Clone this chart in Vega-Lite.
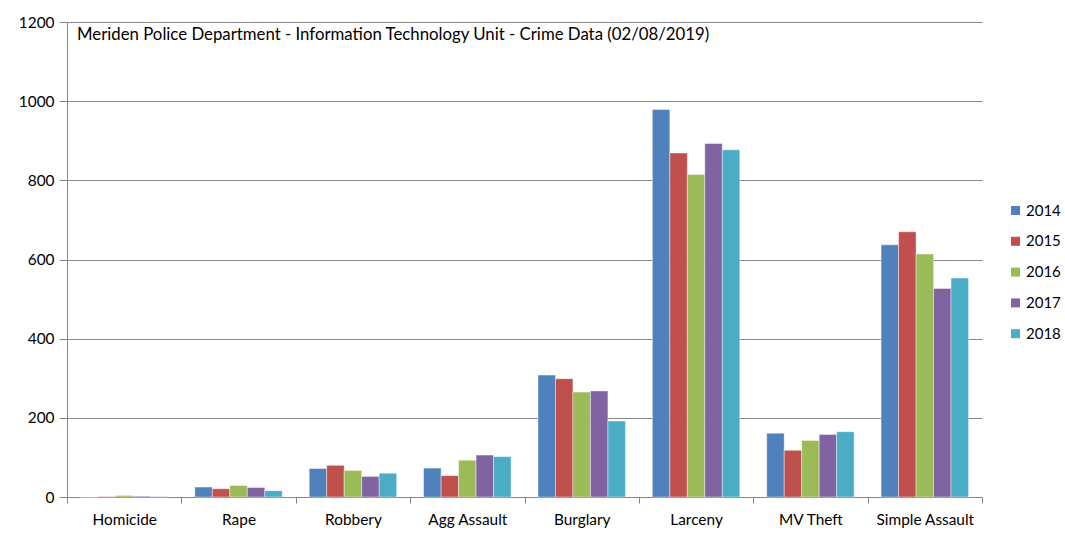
{
  "$schema": "https://vega.github.io/schema/vega-lite/v6.json",
  "width": 915,
  "height": 475,
  "autosize": {"type": "none"},
  "padding": {"left": 67, "top": 22, "right": 83, "bottom": 40},
  "background": "white",
  "config": {
    "font": "Lato",
    "view": {"stroke": null},
    "axis": {"labelFont": "Lato", "labelColor": "#000000", "labelFontSize": 15.4, "domainColor": "#868686", "tickColor": "#868686", "gridColor": "#868686", "titleFontSize": 0}
  },
  "title": {
    "text": "Meriden Police Department - Information Technology Unit - Crime Data (02/08/2019)",
    "anchor": "start",
    "frame": "group",
    "font": "Lato",
    "fontSize": 16.8,
    "fontWeight": "normal",
    "color": "#000000",
    "dx": 10,
    "dy": 29,
    "offset": 0,
    "baseline": "top"
  },
  "data": {
    "values": [
      {"crime": "Homicide", "year": "2014", "count": 0},
      {"crime": "Homicide", "year": "2015", "count": 1},
      {"crime": "Homicide", "year": "2016", "count": 4},
      {"crime": "Homicide", "year": "2017", "count": 2},
      {"crime": "Homicide", "year": "2018", "count": 1},
      {"crime": "Rape", "year": "2014", "count": 25},
      {"crime": "Rape", "year": "2015", "count": 21},
      {"crime": "Rape", "year": "2016", "count": 29},
      {"crime": "Rape", "year": "2017", "count": 24},
      {"crime": "Rape", "year": "2018", "count": 16},
      {"crime": "Robbery", "year": "2014", "count": 72},
      {"crime": "Robbery", "year": "2015", "count": 80},
      {"crime": "Robbery", "year": "2016", "count": 67},
      {"crime": "Robbery", "year": "2017", "count": 52},
      {"crime": "Robbery", "year": "2018", "count": 60},
      {"crime": "Agg Assault", "year": "2014", "count": 73},
      {"crime": "Agg Assault", "year": "2015", "count": 54},
      {"crime": "Agg Assault", "year": "2016", "count": 93},
      {"crime": "Agg Assault", "year": "2017", "count": 106},
      {"crime": "Agg Assault", "year": "2018", "count": 102},
      {"crime": "Burglary", "year": "2014", "count": 308},
      {"crime": "Burglary", "year": "2015", "count": 299},
      {"crime": "Burglary", "year": "2016", "count": 265},
      {"crime": "Burglary", "year": "2017", "count": 268},
      {"crime": "Burglary", "year": "2018", "count": 192},
      {"crime": "Larceny", "year": "2014", "count": 979},
      {"crime": "Larceny", "year": "2015", "count": 869},
      {"crime": "Larceny", "year": "2016", "count": 815},
      {"crime": "Larceny", "year": "2017", "count": 893},
      {"crime": "Larceny", "year": "2018", "count": 877},
      {"crime": "MV Theft", "year": "2014", "count": 161},
      {"crime": "MV Theft", "year": "2015", "count": 118},
      {"crime": "MV Theft", "year": "2016", "count": 143},
      {"crime": "MV Theft", "year": "2017", "count": 158},
      {"crime": "MV Theft", "year": "2018", "count": 165},
      {"crime": "Simple Assault", "year": "2014", "count": 637},
      {"crime": "Simple Assault", "year": "2015", "count": 670},
      {"crime": "Simple Assault", "year": "2016", "count": 614},
      {"crime": "Simple Assault", "year": "2017", "count": 527},
      {"crime": "Simple Assault", "year": "2018", "count": 553}
    ]
  },
  "mark": {"type": "bar", "stroke": "white", "strokeWidth": 0.6, "strokeOpacity": 0.7},
  "encoding": {
    "x": {
      "field": "crime",
      "type": "nominal",
      "sort": ["Homicide", "Rape", "Robbery", "Agg Assault", "Burglary", "Larceny", "MV Theft", "Simple Assault"],
      "scale": {"paddingInner": 0, "paddingOuter": 0},
      "axis": {"title": null, "labelAngle": 0, "tickBand": "extent", "tickSize": 6, "labelPadding": 9, "grid": false, "domainWidth": 1}
    },
    "xOffset": {
      "field": "year",
      "type": "nominal",
      "scale": {"paddingInner": 0, "paddingOuter": 0.77}
    },
    "y": {
      "field": "count",
      "type": "quantitative",
      "scale": {"domain": [0, 1200], "nice": false},
      "axis": {"title": null, "format": "d", "values": [0, 200, 400, 600, 800, 1000, 1200], "tickSize": 8, "labelPadding": 5, "grid": true, "domainWidth": 1}
    },
    "color": {
      "field": "year",
      "type": "nominal",
      "scale": {"domain": ["2014", "2015", "2016", "2017", "2018"], "range": ["#4F81BD", "#C0504D", "#9BBB59", "#8064A2", "#4BACC6"]},
      "legend": {
        "title": null,
        "orient": "none",
        "legendX": 941,
        "legendY": 181,
        "symbolType": "square",
        "symbolSize": 81,
        "symbolStrokeWidth": 0,
        "labelFont": "Lato",
        "labelFontSize": 15,
        "labelColor": "#000000",
        "rowPadding": 14.8,
        "labelOffset": 3,
        "padding": 0
      }
    }
  }
}
